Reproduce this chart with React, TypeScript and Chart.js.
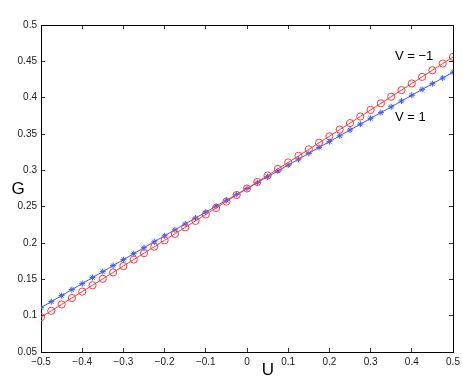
import React, { useEffect, useRef } from "react";
import { Chart, registerables } from "chart.js";

Chart.register(...registerables);

const uValues = [
  -0.5, -0.475, -0.45, -0.425, -0.4, -0.375, -0.35, -0.325, -0.3, -0.275,
  -0.25, -0.225, -0.2, -0.175, -0.15, -0.125, -0.1, -0.075, -0.05, -0.025,
  0, 0.025, 0.05, 0.075, 0.1, 0.125, 0.15, 0.175, 0.2, 0.225,
  0.25, 0.275, 0.3, 0.325, 0.35, 0.375, 0.4, 0.425, 0.45, 0.475, 0.5,
];

const gVminus1 = [
  0.098, 0.1067, 0.1155, 0.1243, 0.1331, 0.1419, 0.1507, 0.1595, 0.1683, 0.1772,
  0.186, 0.1949, 0.2037, 0.2126, 0.2215, 0.2304, 0.2393, 0.2482, 0.2571, 0.2661,
  0.275, 0.284, 0.2929, 0.3019, 0.3109, 0.3199, 0.3289, 0.3379, 0.3469, 0.356,
  0.365, 0.3741, 0.3831, 0.3922, 0.4013, 0.4104, 0.4195, 0.4286, 0.4377, 0.4469, 0.456,
];

const gV1 = [
  0.111, 0.1193, 0.1276, 0.1359, 0.1441, 0.1524, 0.1606, 0.1689, 0.1771, 0.1853,
  0.1935, 0.2017, 0.2099, 0.2181, 0.2262, 0.2344, 0.2425, 0.2507, 0.2588, 0.2669,
  0.275, 0.2831, 0.2912, 0.2992, 0.3073, 0.3154, 0.3234, 0.3315, 0.3395, 0.3475,
  0.3555, 0.3635, 0.3715, 0.3795, 0.3874, 0.3954, 0.4033, 0.4113, 0.4192, 0.4271, 0.435,
];

const xTicks = [-0.5, -0.4, -0.3, -0.2, -0.1, 0, 0.1, 0.2, 0.3, 0.4, 0.5];
const yTicks = [0.05, 0.1, 0.15, 0.2, 0.25, 0.3, 0.35, 0.4, 0.45, 0.5];

const FONT = "'Liberation Sans', Arial, sans-serif";

const fmt = (v: number) => {
  const r = Math.round(v * 100) / 100;
  const s = String(Math.abs(r));
  return r < 0 ? "\u2212" + s : s;
};

const labelPlugin = {
  id: "matlabLabels",
  afterDraw(chart: any) {
    const ctx = chart.ctx;
    ctx.save();
    ctx.fillStyle = "#000";
    ctx.textAlign = "center";
    ctx.textBaseline = "middle";
    ctx.font = "17px " + FONT;
    ctx.fillText("G", 18, 189);
    ctx.fillText("U", 268, 370);
    ctx.font = "13px " + FONT;
    ctx.textAlign = "left";
    ctx.fillText("V = \u22121", 395, 56);
    ctx.fillText("V = 1", 395, 117);
    ctx.restore();
  },
};

const gridOpts = {
  display: true,
  drawOnChartArea: false,
  drawTicks: true,
  tickLength: -4,
  color: "#333",
  lineWidth: 1,
};
const borderOpts = { display: true, color: "#000", width: 1 };

export default function App() {
  const ref = useRef<HTMLCanvasElement | null>(null);
  useEffect(() => {
    if (!ref.current) return;
    const chart = new Chart(ref.current, {
      type: "line",
      data: {
        datasets: [
          {
            label: "V = -1",
            data: uValues.map((u, i) => ({ x: u, y: gVminus1[i] })),
            borderColor: "#ff3b3b",
            borderWidth: 1,
            pointStyle: "circle",
            pointRadius: 3.6,
            pointBorderWidth: 1,
            pointBorderColor: "#ff3b3b",
            pointBackgroundColor: "rgba(0,0,0,0)",
            tension: 0,
          },
          {
            label: "V = 1",
            data: uValues.map((u, i) => ({ x: u, y: gV1[i] })),
            borderColor: "#3b5bff",
            borderWidth: 1,
            pointStyle: "star",
            pointRadius: 3,
            pointBorderWidth: 1,
            pointBorderColor: "#3b5bff",
            pointBackgroundColor: "#3b5bff",
            tension: 0,
          },
        ],
      },
      options: {
        animation: false,
        responsive: false,
        layout: { padding: { left: 0, right: 10, top: 25, bottom: 0 } },
        plugins: { legend: { display: false }, tooltip: { enabled: false } },
        scales: {
          x: {
            type: "linear",
            position: "bottom",
            min: -0.5,
            max: 0.5,
            grid: gridOpts,
            border: borderOpts,
            afterBuildTicks: (s: any) => {
              s.ticks = xTicks.map((v) => ({ value: v }));
            },
            afterFit: (s: any) => {
              s.height = 34;
              s.paddingLeft = 0;
              s.paddingRight = 0;
            },
            ticks: {
              color: "#222",
              font: { size: 10, family: FONT },
              padding: 8,
              maxRotation: 0,
              autoSkip: false,
              callback: (v: any) => fmt(Number(v)),
            },
          },
          x2: {
            type: "linear",
            position: "top",
            min: -0.5,
            max: 0.5,
            grid: gridOpts,
            border: borderOpts,
            afterBuildTicks: (s: any) => {
              s.ticks = xTicks.map((v) => ({ value: v }));
            },
            afterFit: (s: any) => {
              s.height = 0;
              s.paddingLeft = 0;
              s.paddingRight = 0;
            },
            ticks: { display: false },
          },
          y: {
            type: "linear",
            position: "left",
            min: 0.05,
            max: 0.5,
            grid: gridOpts,
            border: borderOpts,
            afterBuildTicks: (s: any) => {
              s.ticks = yTicks.map((v) => ({ value: v }));
            },
            afterFit: (s: any) => {
              s.width = 41;
              s.paddingTop = 0;
              s.paddingBottom = 0;
            },
            ticks: {
              color: "#222",
              font: { size: 10, family: FONT },
              padding: 8,
              autoSkip: false,
              callback: (v: any) => fmt(Number(v)),
            },
          },
          y2: {
            type: "linear",
            position: "right",
            min: 0.05,
            max: 0.5,
            grid: gridOpts,
            border: borderOpts,
            afterBuildTicks: (s: any) => {
              s.ticks = yTicks.map((v) => ({ value: v }));
            },
            afterFit: (s: any) => {
              s.width = 0;
              s.paddingTop = 0;
              s.paddingBottom = 0;
            },
            ticks: { display: false },
          },
        },
      },
      plugins: [labelPlugin],
    } as any);
    return () => chart.destroy();
  }, []);
  return (
    <div style={{ position: "fixed", left: 0, top: 0, width: 463, height: 386 }}>
      <canvas ref={ref} width={463} height={386} style={{ width: 463, height: 386 }} />
    </div>
  );
}
